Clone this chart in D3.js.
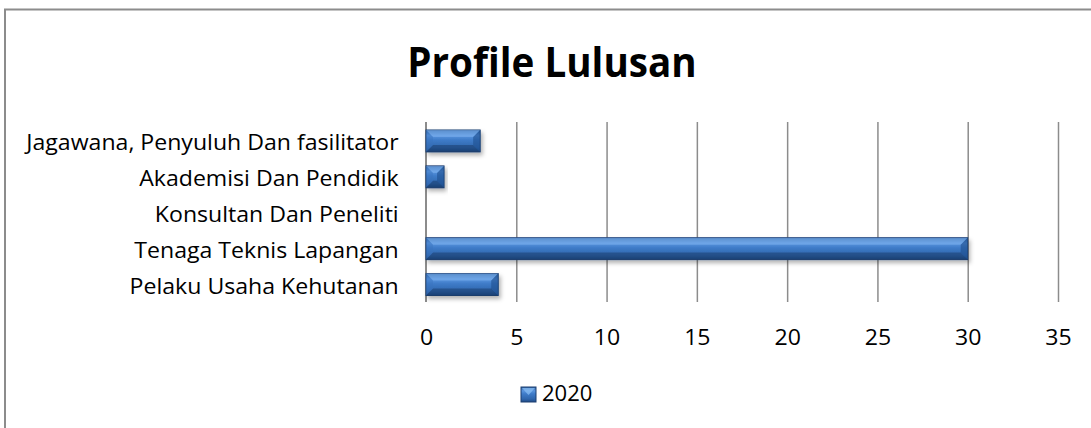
<!DOCTYPE html>
<html><head><meta charset="utf-8">
<script src="https://cdn.jsdelivr.net/npm/d3@7"></script>
<style>body{margin:0;background:#fff}svg{display:block}text{font-family:"Open Sans",sans-serif}</style>
</head><body><svg id="c" width="1091" height="428"></svg>
<script>
const categories = ["Pelaku Usaha Kehutanan","Tenaga Teknis Lapangan","Konsultan Dan Peneliti","Akademisi Dan Pendidik","Jagawana, Penyuluh Dan fasilitator"];
const values2020 = [4,30,0,1,3];
const xTicks = [0,5,10,15,20,25,30,35];
const seriesName = "2020";

const SX = 1.05;
const svg = d3.select("#c");
const defs = svg.append("defs");
const g1 = defs.append("linearGradient").attr("id","bg").attr("x1",0).attr("y1",0).attr("x2",0).attr("y2",1);
[[0,"#2f63a3"],[0.25,"#5a95de"],[0.45,"#3f7cc9"],[0.8,"#2f66ad"],[1,"#1f4a85"]].forEach(s=>g1.append("stop").attr("offset",s[0]).attr("stop-color",s[1]));
const f = defs.append("filter").attr("id","sh").attr("x","-10%").attr("y","-30%").attr("width","130%").attr("height","180%");
f.append("feDropShadow").attr("dx",2).attr("dy",3).attr("stdDeviation",2).attr("flood-color","#000").attr("flood-opacity",0.3);

// border (top & left)
svg.append("path").attr("d","M5,428 V9.5 H1091").attr("fill","none").attr("stroke","#8c8c8c").attr("stroke-width",2);

const x = d3.scaleLinear().domain([0,35]).range([426,1058]);
const y = d3.scaleBand().domain(categories.slice().reverse()).range([123,302.5]).paddingInner(0.39).paddingOuter(0.195);

svg.append("text").attr("transform","translate(552,77) scale(0.92,1)").attr("text-anchor","middle").attr("font-weight","bold").attr("font-size",42).text("Profile Lulusan");

// gridlines
svg.append("g").selectAll("line").data(xTicks.slice(1)).join("line")
 .attr("x1",d=>x(d)+0.5).attr("x2",d=>x(d)+0.5).attr("y1",122).attr("y2",302).attr("stroke","#8c8c8c").attr("stroke-width",1.5);
svg.append("line").attr("x1",x(0)).attr("x2",x(0)).attr("y1",122).attr("y2",302).attr("stroke","#8c8c8c").attr("stroke-width",2);

const ax = d3.axisBottom(x).tickValues(xTicks).tickSize(0).tickPadding(27.5);
const axg = svg.append("g").attr("transform","translate(0,302)").call(ax);
axg.select(".domain").remove();
axg.selectAll("text").attr("font-size",22).attr("fill","#000").style("font-family","Open Sans").attr("transform","scale("+SX+",1)");

const ay = d3.axisLeft(y).tickSize(0).tickPadding(26);
const ayg = svg.append("g").attr("transform","translate(426,0)").call(ay);
ayg.select(".domain").remove();
ayg.selectAll("text").attr("font-size",22).attr("dy","0.41em").attr("fill","#000").style("font-family","Open Sans").attr("transform","scale("+SX+",1)");

// bars
const bars = svg.append("g").selectAll("g").data(categories.map((c,i)=>({c,v:values2020[i]})).filter(d=>d.v>0)).join("g");
bars.append("rect").attr("x",x(0)).attr("y",d=>y(d.c)).attr("width",d=>x(d.v)-x(0)).attr("height",y.bandwidth())
 .attr("fill","url(#bg)").attr("stroke","#1c3f70").attr("stroke-width",1).attr("filter","url(#sh)");
const bev = (d,k)=>{const x0=x(0),x1=x(d.v),y0=y(d.c),h=y.bandwidth(),b=Math.min(7,(x1-x0)/2,h/2);
  if(k===0) return `M${x0},${y0} L${x1},${y0} L${x1-b},${y0+b} L${x0+b},${y0+b} Z`;
  if(k===1) return `M${x0},${y0+h} L${x1},${y0+h} L${x1-b},${y0+h-b} L${x0+b},${y0+h-b} Z`;
  if(k===2) return `M${x1},${y0} L${x1},${y0+h} L${x1-b},${y0+h-b} L${x1-b},${y0+b} Z`;
  return `M${x0},${y0} L${x0},${y0+h} L${x0+b},${y0+h-b} L${x0+b},${y0+b} Z`;};
bars.append("path").attr("d",d=>bev(d,0)).attr("fill","#7fb2ee").attr("opacity",0.55);
bars.append("path").attr("d",d=>bev(d,1)).attr("fill","#16365f").attr("opacity",0.45);
bars.append("path").attr("d",d=>bev(d,2)).attr("fill","#1e4f8e").attr("opacity",0.6);
bars.append("path").attr("d",d=>bev(d,3)).attr("fill","#3a73bd").attr("opacity",0.4);

// legend
const lg = svg.append("g").attr("transform","translate(521,387)");
lg.append("rect").attr("width",15).attr("height",15).attr("fill","url(#bg)").attr("stroke","#1c3f70");
lg.append("path").attr("d","M1,1 L14,1 L7.5,8 Z").attr("fill","#8cc0f5").attr("opacity",0.7);
lg.append("text").attr("transform","translate(21,13.5) scale("+SX+",1)").attr("font-size",21).text(seriesName);
</script></body></html>
